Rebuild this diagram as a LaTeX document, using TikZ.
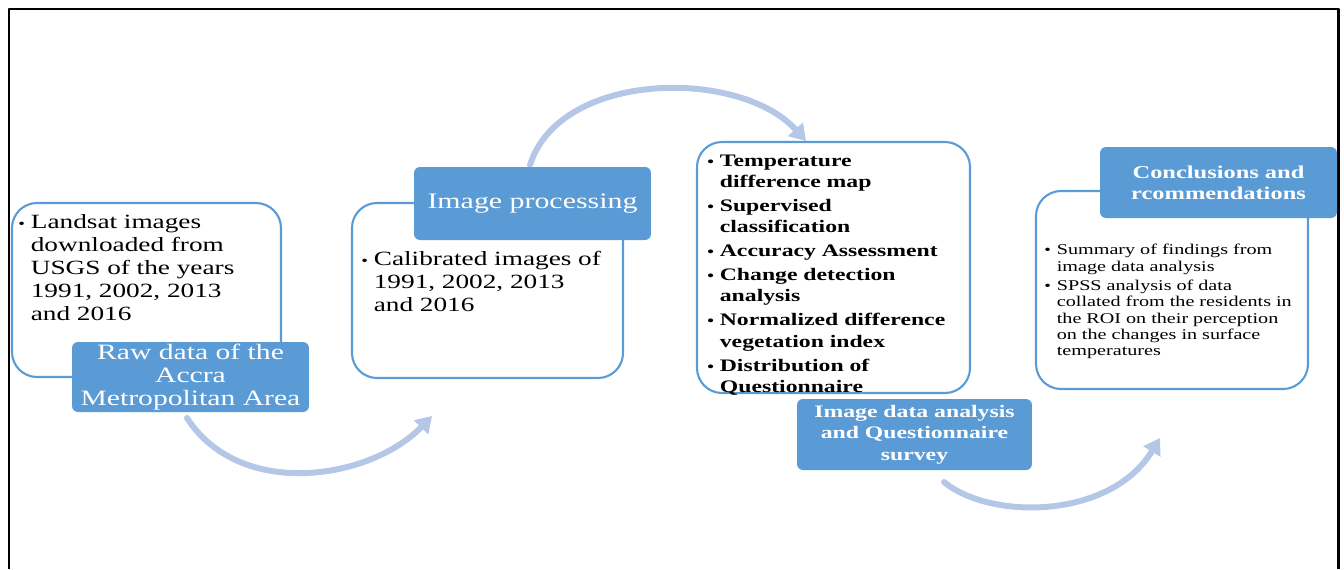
\documentclass[tikz,border=0pt]{standalone}
\usepackage{fontspec}
\setmainfont[FakeStretch=1.35]{Liberation Serif}
\usepackage{tikz}
\usetikzlibrary{arrows.meta,fit}
\definecolor{labblue}{HTML}{5B9BD5}
\definecolor{arrblue}{HTML}{B4C7E7}
\newlength\bulind
\setlength\bulind{0.25cm}
\newcommand\bitem[1]{\par\hangindent=\bulind\hangafter=1\noindent\makebox[\bulind][l]{\footnotesize\textbullet}#1\par}
\tikzstyle{whitebox} = [draw=labblue, line width=1.2pt, fill=white, rounded corners=0.5cm, inner sep=0pt]
\tikzstyle{bluelab} = [fill=labblue, rounded corners=0.12cm, inner sep=0pt, text=white, align=center, minimum width=4.74cm, minimum height=1.42cm]
\tikzstyle{bodytext} = [anchor=north west, inner sep=0pt, text width=5.3cm]
\tikzstyle{flow} = [arrblue, line width=3.4pt, -{Triangle[length=9pt,width=11pt]}]

\begin{document}
\begin{tikzpicture}[x=0.02cm, y=-0.02cm, line cap=round, line join=round]
      \useasboundingbox (0,0) rectangle (1344,569);
      % frame
      \draw [line width=1.7pt, line cap=butt] (9,569) -- (9,9) -- (1338,9) -- (1338,569);
      % curved arrows
      \coordinate (a1s) at (187,418);
      \coordinate (a1e) at (432,416);
      \coordinate (a2s) at (530,165);
      \coordinate (a2e) at (806,141);
      \coordinate (a3s) at (944,482);
      \coordinate (a3e) at (1160,438);
      \draw [flow] (a1s) .. controls (240,500) and (370,480) .. (a1e);
      \draw [flow] (a2s) .. controls (560,70) and (740,68) .. (a2e);
      \draw [flow] (a3s) .. controls (990,520) and (1110,520) .. (a3e);
      % step 1
      \node [whitebox, fit={(12,203) (281,377)}] (rawbox) {};
      \node [bodytext, font=\fontsize{11.5}{13.1}\selectfont] (rawtext) at (18,205)
        {\bitem{Landsat images\newline downloaded from\newline USGS of the years\newline 1991, 2002, 2013\newline and 2016}};
      \node [bluelab, minimum height=1.4cm, font=\fontsize{12.5}{13.1}\selectfont] (rawlab) at (190.5,377)
        {Raw data of the\\ Accra\\ Metropolitan Area};
      % step 2
      \node [whitebox, fit={(352,203) (623,378)}] (procbox) {};
      \node [bodytext, font=\fontsize{11.5}{13.1}\selectfont] (proctext) at (361,242)
        {\bitem{Calibrated images of\newline 1991, 2002, 2013\newline and 2016}};
      \node [bluelab, minimum height=1.46cm, font=\fontsize{12.6}{14}\selectfont] (proclab) at (532.5,203.5)
        {Image processing};
      % step 3
      \node [whitebox, fit={(697,142) (970,393)}] (anabox) {};
      \node [bodytext, font=\bfseries\fontsize{10}{12}\selectfont] (anatext) at (707,142)
        {\setlength\parskip{1.7pt}%
         \bitem{Temperature\newline difference map}
         \bitem{Supervised\newline classification}
         \bitem{Accuracy Assessment}
         \bitem{Change detection\newline analysis}
         \bitem{Normalized difference\newline vegetation index}
         \bitem{Distribution of\newline Questionnaire}};
      \node [bluelab, minimum width=4.7cm, font=\bfseries\fontsize{10}{12.2}\selectfont] (analab) at (914.5,434.5)
        {Image data analysis\\ and Questionnaire\\ survey};
      % step 4
      \node [whitebox, fit={(1036,191) (1308,389)}] (concbox) {};
      \node [bodytext, text width=5.2cm, font=\fontsize{8.5}{9.3}\selectfont] (conctext) at (1044,235)
        {\setlength\parskip{1.7pt}%
         \bitem{Summary of findings from\newline image data analysis}
         \bitem{SPSS analysis of data\newline collated from the residents in\newline the ROI on their perception\newline on the changes in surface\newline temperatures}};
      \node [bluelab, font=\bfseries\fontsize{10.3}{12}\selectfont] (conclab) at (1218.5,182.5)
        {Conclusions and\\ rcommendations};
\end{tikzpicture}
\end{document}
